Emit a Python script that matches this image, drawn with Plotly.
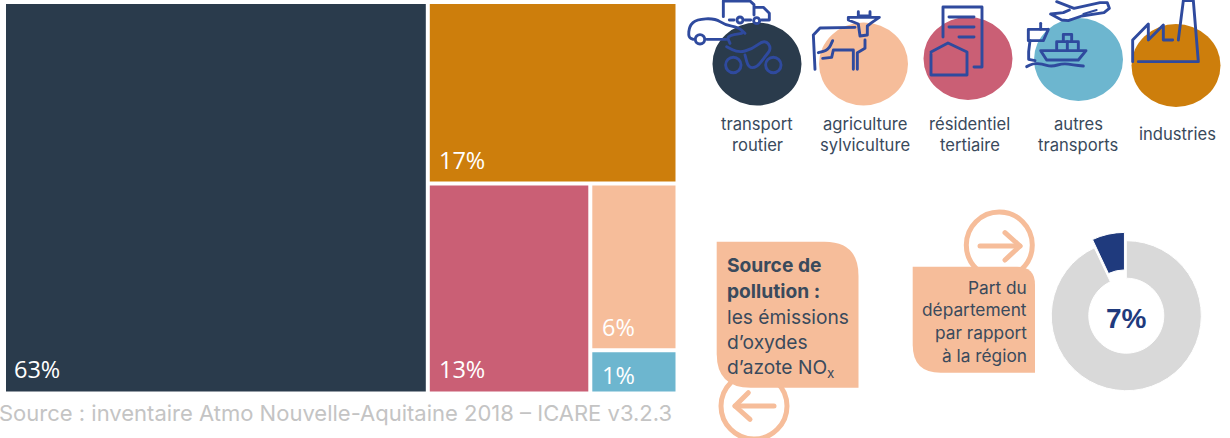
import plotly.graph_objects as go

W, H = 1230, 438

# ---- data ----
node_ids = ["root", "reste", "bas", "droite", "transport", "industries", "residentiel", "autres", "agriculture"]
node_parents = ["", "root", "reste", "bas", "root", "reste", "bas", "droite", "droite"]
node_values = [0, 0, 0, 0, 63.7, 17.4, 13.1, 1.45, 5.58]
node_labels = ["", "", "", "", "63%", "17%", "13%", "1%", "6%"]
node_colors = ["#ffffff", "#ffffff", "#ffffff", "#ffffff", "#2a3b4c", "#cd7e0c", "#ca5f75", "#6db6cf", "#f6bd9a"]
part_values = [7, 93]
part_colors = ["#1f3a7d", "#d9d9d9"]
part_label = "7%"
legend_names = [["transport", "routier"], ["agriculture", "sylviculture"], ["résidentiel", "tertiaire"],
                ["autres", "transports"], ["industries"]]
legend_colors = ["#2a3b4c", "#f6bd9a", "#ca5f75", "#6db6cf", "#cd7e0c"]
source_text = "Source : inventaire Atmo Nouvelle-Aquitaine 2018 – ICARE v3.2.3"
box_left_lines = ["<b>Source de</b>", "<b>pollution :</b>", "les émissions", "d’oxydes", "d’azote NO<sub>x</sub>"]
box_right_lines = ["Part du", "département", "par rapport", "à la région"]

TXT = "#3a4a5c"
FONT = "Inter"
BLUE = "#2f4a9e"
PEACH = "#f6bd9a"


def px(x):
    return x / W


def py(y):
    return 1 - y / H


def path_from(cmds):
    """cmds: list like ('M',x,y) ('L',x,y) ('Q',x1,y1,x,y) ('Z',) in pixels"""
    out = []
    for c in cmds:
        vals = c[1:]
        s = c[0]
        for i in range(0, len(vals), 2):
            s += f" {px(vals[i]):.5f},{py(vals[i + 1]):.5f}"
        out.append(s)
    return " ".join(out)


shapes = []


def ell(cx, cy, rx, ry, fill=None, line=None, w=0):
    shapes.append(dict(type="circle", xref="paper", yref="paper",
                       x0=px(cx - rx), x1=px(cx + rx), y0=py(cy + ry), y1=py(cy - ry),
                       fillcolor=fill or "rgba(0,0,0,0)",
                       line=dict(color=line or "rgba(0,0,0,0)", width=w)))


def pl(ox, oy, pts, color=BLUE, w=2.9, scale=3.0, smooth=False):
    """polyline given in zoomed coordinates; smooth rounds its inner vertices"""
    q = [(ox + p[0] / scale, oy + p[1] / scale) for p in pts]
    cmds = [("M", *q[0])]
    if smooth and len(q) > 2:
        for i in range(1, len(q) - 1):
            a, b, c = q[i - 1], q[i], q[i + 1]
            cmds.append(("L", (a[0] + b[0]) / 2, (a[1] + b[1]) / 2))
            cmds.append(("Q", b[0], b[1], (b[0] + c[0]) / 2, (b[1] + c[1]) / 2))
        cmds.append(("L", *q[-1]))
    else:
        cmds += [("L", *p) for p in q[1:]]
    shapes.append(dict(type="path", xref="paper", yref="paper", path=path_from(cmds),
                       line=dict(color=color, width=w), fillcolor="rgba(0,0,0,0)"))


# legend discs
for (cx, cy), c in zip([(757, 64), (863.5, 64), (968, 58.5), (1078.5, 59.5), (1176, 65.5)], legend_colors):
    ell(cx, cy, 44.5, 41.5, fill=c)

Z1 = (680, 0)
Z2 = (950, 0)
# car
pl(*Z1, [(40, 118), (25, 112), (28, 78), (50, 58), (105, 55), (135, 75), (175, 82), (195, 100)], smooth=True)
ell(680 + 60 / 3, 118 / 3, 4.7, 4.7, line=BLUE, w=2.9)
pl(*Z1, [(80, 118), (140, 118)])
# truck
pl(*Z1, [(130, 50), (130, 3), (210, 3), (222, 14), (222, 45)])
pl(*Z1, [(148, 60), (162, 60)])
ell(680 + 180 / 3, 60 / 3, 3, 3, line=BLUE, w=2.9)
pl(*Z1, [(195, 60), (212, 60)])
ell(680 + 230 / 3, 62 / 3, 3, 3, line=BLUE, w=2.9)
pl(*Z1, [(225, 22), (250, 22), (268, 40), (268, 60), (245, 60)])
# motorcycle
ell(680 + 160 / 3, 195 / 3, 7.7, 7.7, line=BLUE, w=2.9)
ell(680 + 280 / 3, 195 / 3, 7.7, 7.7, line=BLUE, w=2.9)
pl(*Z1, [(140, 140), (175, 158), (215, 148), (255, 118), (275, 145), (255, 170), (230, 203), (205, 203), (195, 165)], smooth=True)
pl(*Z1, [(150, 130), (140, 108), (185, 100)], smooth=True)
# cow
pl(*Z1, [(405, 208), (400, 105), (420, 84), (525, 82)])
pl(*Z1, [(535, 35), (535, 48), (570, 48), (570, 35)])
pl(*Z1, [(505, 52), (598, 52), (575, 68), (562, 78), (562, 105), (540, 108), (535, 72), (505, 60), (505, 52)])
pl(*Z1, [(415, 158), (445, 150), (458, 122)], smooth=True)
pl(*Z1, [(428, 175), (455, 172), (460, 150), (520, 150), (520, 208)])
pl(*Z1, [(532, 208), (532, 158), (555, 145), (555, 120)])
# residential
pl(0, 0, [(943, 37), (943, 7), (982, 7), (982, 67), (974, 67)], scale=1)
pl(0, 0, [(949, 17), (974, 17)], scale=1)
pl(0, 0, [(949, 27), (974, 27)], scale=1)
pl(0, 0, [(959, 37), (974, 37)], scale=1)
pl(0, 0, [(931, 52), (948, 43), (967, 52), (967, 75), (931, 75), (931, 54)], scale=1)
# plane
pl(*Z2, [(320, 5), (372, 25), (450, 8), (472, 8), (478, 25), (462, 38), (395, 48), (355, 62), (335, 60), (302, 42), (340, 38), (358, 30)])
pl(*Z2, [(400, 42), (440, 30)], w=2)
# ship
pl(*Z2, [(272, 152), (408, 152), (385, 180), (290, 180), (272, 152)])
pl(*Z2, [(320, 148), (320, 125), (385, 125), (385, 148)])
pl(*Z2, [(340, 125), (340, 103), (365, 103), (365, 125)])
pl(*Z2, [(352, 125), (352, 148)])
# tower
pl(*Z2, [(272, 70), (272, 88)])
pl(*Z2, [(295, 88), (235, 88), (235, 122), (280, 122), (295, 88)])
pl(*Z2, [(240, 122), (236, 155), (236, 178), (255, 182)])
# waves
pl(*Z2, [(230, 200), (250, 190), (275, 192), (305, 200), (340, 190), (370, 195), (400, 198)], smooth=True)
# factory
pl(*Z2, [(548, 185), (548, 120), (595, 72), (595, 120), (640, 75), (640, 120), (668, 120)])
pl(*Z2, [(685, 120), (700, 2), (730, 2), (745, 185), (565, 185)])

# arrow circles
Z3 = (700, 200)
ell(754, 406, 33, 33, line=PEACH, w=5)
ell(999.3, 245, 33, 33, line=PEACH, w=5)
pl(*Z3, [(222, 618), (105, 618)], color=PEACH, w=5)
pl(*Z3, [(145, 578), (105, 618), (150, 658)], color=PEACH, w=5)
pl(*Z3, [(840, 138), (960, 138)], color=PEACH, w=5)
pl(*Z3, [(915, 98), (960, 138), (915, 180)], color=PEACH, w=5)


def box(x0, y0, x1, y1, rtr, rbl):
    shapes.append(dict(type="path", xref="paper", yref="paper", fillcolor=PEACH, line=dict(width=0),
                       path=path_from([("M", x0, y0), ("L", x1 - rtr, y0), ("Q", x1, y0, x1, y0 + rtr), ("L", x1, y1),
                                       ("L", x0 + rbl, y1), ("Q", x0, y1, x0, y1 - rbl), ("Z",)])))


box(716.7, 241.7, 858.5, 387.7, 34, 34)
box(912.7, 266.7, 1035, 372.7, 18, 28)

ann = []


def txt(x, y, s, size=16.6, anchor="center", color=TXT, family=FONT):
    ann.append(dict(xref="paper", yref="paper", x=px(x), y=py(y), text=s, showarrow=False,
                    xanchor=anchor, yanchor="middle", font=dict(family=family, size=size, color=color),
                    xshift=0, yshift=0, borderpad=0, align=anchor))


for x, names in zip([757, 865, 969.5, 1078, 1177], legend_names):
    if len(names) == 2:
        txt(x, 123.5, names[0])
        txt(x, 144.5, names[1])
    else:
        txt(x, 134, names[0])

for y, s in zip([265, 291, 317, 342, 368], box_left_lines):
    txt(726, y, s, size=19.2, anchor="left")
for y, s in zip([287, 309, 332, 355], box_right_lines):
    txt(1027.5, y, s, size=17.3, anchor="right")
txt(-2, 413, source_text, size=22, anchor="left", color="#c4c4c4")
txt(1126.5, 318, "<b>" + part_label + "</b>", size=28, color="#1f3a7d", family="Liberation Sans")

# treemap percentage labels
label_spots = {"63%": (13, 369), "17%": (438, 160), "13%": (438, 369), "6%": (601, 327), "1%": (601, 375)}
for lab in node_labels:
    if lab:
        txt(label_spots[lab][0], label_spots[lab][1], lab, size=23.5, anchor="left", color="#ffffff", family="Open Sans")

fig = go.Figure()
fig.add_trace(go.Treemap(
    ids=node_ids, labels=node_ids, parents=node_parents, values=node_values,
    textinfo="none", sort=False,
    branchvalues="remainder", maxdepth=-1,
    marker=dict(colors=node_colors, line=dict(width=0), pad=dict(t=0, l=0, r=0, b=0), depthfade=False),
    tiling=dict(packing="slice-dice", pad=4, flip="x+y"),
    pathbar=dict(visible=False),
    domain=dict(x=[6 / W, 675.5 / W], y=[1 - 391.5 / H, 1 - 4 / H]),
    hoverinfo="skip",
))
cx, cy, rr = 1126.3, 315.7, 83.5
fig.add_trace(go.Pie(
    values=part_values, hole=0.5, sort=False, direction="clockwise", rotation=-25.2,
    pull=[0.113, 0], marker=dict(colors=part_colors, line=dict(color="#ffffff", width=1)),
    textinfo="none", showlegend=False, hoverinfo="skip",
    domain=dict(x=[(cx - rr) / W, (cx + rr) / W], y=[1 - (cy + rr) / H, 1 - (cy - rr) / H]),
))
fig.update_layout(width=W, height=H, margin=dict(l=0, r=0, t=0, b=0), paper_bgcolor="#ffffff",
                  plot_bgcolor="#ffffff", shapes=shapes, annotations=ann, showlegend=False)
fig.write_html("out.html", config=dict(displayModeBar=False),
               post_script="document.body.style.margin='0';document.body.style.overflow='hidden';"
                           "document.querySelectorAll('.shapelayer path').forEach(function(p){"
                           "p.style.strokeLinecap='round';p.style.strokeLinejoin='round';});")
